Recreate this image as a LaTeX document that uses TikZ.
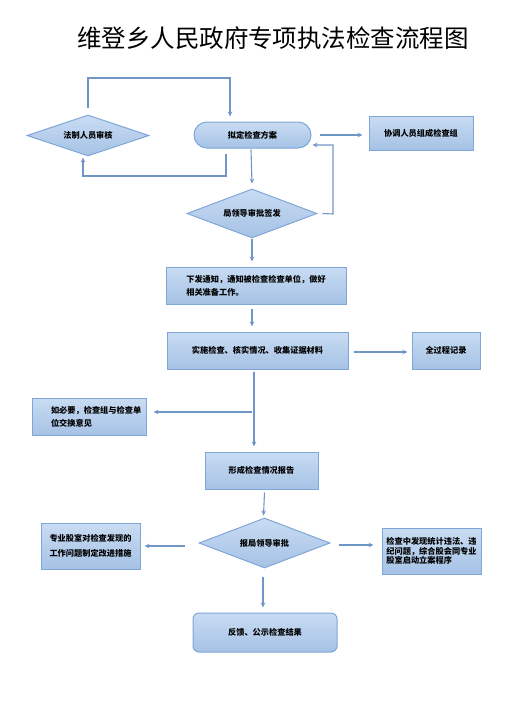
\documentclass[tikz,border=0pt]{standalone}
\usepackage{fontspec}
\newfontfamily\cjk{Noto Sans CJK SC}
\usetikzlibrary{shapes.geometric,arrows.meta,calc}
\definecolor{fillT}{HTML}{C9DCF3}
\definecolor{fillB}{HTML}{A5C2E5}
\definecolor{edgeC}{HTML}{7EA6D6}
\definecolor{arrC}{HTML}{7096C8}
\begin{document}
\begin{tikzpicture}[x=1pt,y=-1pt,
  boxbase/.style={draw=edgeC,line width=1pt,top color=fillT,bottom color=fillB,
    inner sep=2pt,font=\cjk\bfseries\fontsize{8.2}{13}\selectfont,align=center},
  procbox/.style={boxbase,rectangle},
  pillbox/.style={boxbase,rectangle,rounded corners=13pt},
  roundbox/.style={boxbase,rectangle,rounded corners=6pt},
  decide/.style={boxbase,diamond,inner sep=0pt,aspect=3},
  arr/.style={draw=arrC,line width=1.1pt,-{Stealth[length=5pt,width=4.5pt]}}]
\useasboundingbox (0,0) rectangle (518,702);
\node[font=\cjk\fontsize{24.5}{28}\selectfont] (title) at (273,38) {维登乡人民政府专项执法检查流程图};

\node[decide,minimum width=122pt,minimum height=41pt] (fz) at (88,135.5) {法制人员审核};
\node[pillbox,minimum width=117pt,minimum height=26pt] (nd) at (252.5,135) {拟定检查方案};
\node[procbox,minimum width=104pt,minimum height=34pt] (xt) at (421,133) {协调人员组成检查组};
\node[decide,minimum width=130pt,minimum height=49pt] (ld) at (252,213.5) {局领导审批签发};
\node[procbox,minimum width=180pt,minimum height=37pt,align=left] (xf) at (256,285.5) {下发通知，通知被检查检查单位，做好\\相关准备工作。};
\node[procbox,minimum width=181pt,minimum height=37pt] (ss) at (257.5,350.5) {实施检查、核实情况、收集证据材料};
\node[procbox,minimum width=68pt,minimum height=37pt] (qg) at (446,350.5) {全过程记录};
\node[procbox,minimum width=114pt,minimum height=37pt,
  label={[anchor=west,xshift=16pt,align=left,font=\cjk\bfseries\fontsize{8.2}{13}\selectfont]west:如必要，检查组与检查单\\位交换意见}] (rb) at (89,416.5) {};
\node[procbox,minimum width=113pt,minimum height=37pt] (xc) at (261.5,470.5) {形成检查情况报告};
\node[decide,minimum width=131pt,minimum height=50pt] (bj) at (264.5,543) {报局领导审批};
\node[procbox,minimum width=99pt,minimum height=46pt,font=\cjk\bfseries\fontsize{8.2}{15}\selectfont] (zy) at (90.5,546) {专业股室对检查发现的\\工作问题制定改进措施};
\node[procbox,minimum width=99pt,minimum height=46pt,align=left,font=\cjk\bfseries\fontsize{8.2}{9.6}\selectfont] (jc) at (431.5,551) {检查中发现统计违法、违\\纪问题，综合股会同专业\\股室启动立案程序};
\node[roundbox,minimum width=144pt,minimum height=39pt] (fk) at (265,632.5) {反馈、公示检查结果};

% connectors
\coordinate (c1) at (230,78);
\draw[arr] ([yshift=7pt]fz.north) |- (c1) -- ([yshift=5pt]nd.north -| c1);
\coordinate (c2) at (226,176);
\draw[arr] ([yshift=-5pt]nd.south -| c2) -- (c2) -| ([xshift=-5pt,yshift=-1pt]fz.south);
\draw[arr] ([xshift=8pt]nd.east) -- ([xshift=-6pt]xt.west |- nd.east);
\draw[arr] ([xshift=-1.5pt,yshift=-1pt]nd.south) -- ([yshift=5pt]ld.north);
\coordinate (c3) at (333,214);
\draw[arr] ([xshift=5pt]ld.east) -- (c3) |- ([xshift=1pt,yshift=-10pt]nd.east);
\draw[arr] (ld.south) -- ([yshift=5pt]xf.north -| ld.south);
\draw[arr] ([yshift=-4pt]xf.south -| ld.south) -- ([yshift=5pt]ss.north -| ld.south);
\draw[arr] ([xshift=5pt,yshift=-1.5pt]ss.east) -- ([xshift=-4pt,yshift=-1.5pt]qg.west);
\coordinate (c4) at (254,372);
\draw[arr] (c4) -- ([yshift=5pt]xc.north -| c4);
\coordinate (c5) at (252,412);
\draw[arr] (c5) -- ([xshift=7pt]rb.east |- c5);
\draw[arr] ([yshift=-3pt]xc.south -| bj.north) -- ([yshift=2pt,xshift=-1pt]bj.north);
\coordinate (c6) at ([xshift=-14pt,yshift=-3pt]bj.west);
\draw[arr] (c6) -- ([xshift=4pt]zy.east |- c6);
\coordinate (c7) at ([xshift=8pt,yshift=-2pt]bj.east);
\draw[arr] (c7) -- ([xshift=-8pt]jc.west |- c7);
\coordinate (c8) at ([xshift=-1.5pt,yshift=-8pt]bj.south);
\draw[arr] (c8) -- ([yshift=5pt]fk.north -| c8);
\end{tikzpicture}
\end{document}
